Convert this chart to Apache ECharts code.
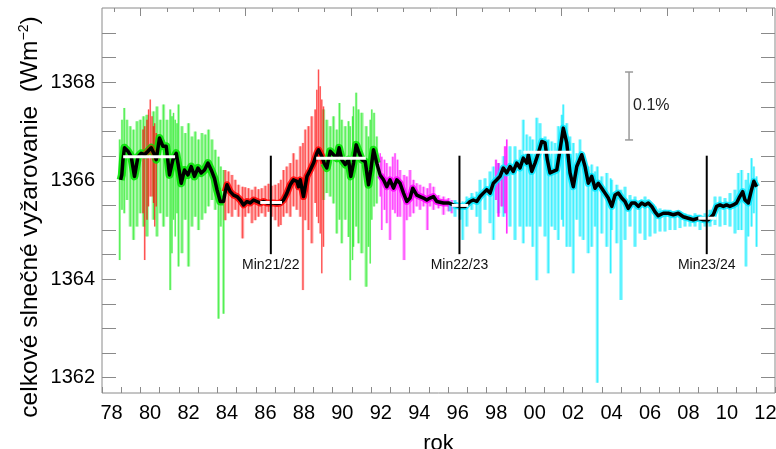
<!DOCTYPE html>
<html><head><meta charset="utf-8">
<script src="https://cdn.jsdelivr.net/npm/echarts@6/dist/echarts.min.js"></script>
<style>html,body{margin:0;padding:0;background:#fff}#c{width:776px;height:449px}</style>
</head><body><div id="c"></div>
<script>
// ---------------- data ----------------
// 81-day smoothed composite (black line)
const smoothYears = [1978.97,1979.03,1979.09,1979.17,1979.35,1979.52,1979.69,1979.87,1980.04,1980.21,1980.39,1980.56,1980.73,1980.82,1980.99,1981.17,1981.34,1981.51,1981.69,1981.86,1981.95,1982.12,1982.29,1982.47,1982.64,1982.81,1982.99,1983.16,1983.33,1983.51,1983.68,1983.85,1983.98,1984.15,1984.32,1984.41,1984.50,1984.67,1984.84,1985.02,1985.19,1985.36,1985.54,1985.71,1985.88,1986.06,1986.23,1986.40,1986.58,1986.75,1986.92,1987.10,1987.27,1987.44,1987.62,1987.79,1987.96,1988.14,1988.22,1988.31,1988.48,1988.66,1988.83,1989.00,1989.17,1989.26,1989.43,1989.55,1989.69,1989.87,1990.04,1990.21,1990.33,1990.47,1990.65,1990.82,1990.94,1991.08,1991.22,1991.34,1991.51,1991.69,1991.86,1991.98,1992.12,1992.29,1992.46,1992.64,1992.81,1992.98,1993.16,1993.33,1993.50,1993.68,1993.85,1994.02,1994.16,1994.37,1994.54,1994.72,1994.89,1995.06,1995.24,1995.41,1995.76,1996.02,1996.27,1996.62,1996.88,1997.14,1997.31,1997.49,1997.66,1997.83,1998.01,1998.18,1998.35,1998.53,1998.70,1998.87,1999.05,1999.22,1999.39,1999.57,1999.74,1999.91,2000.09,2000.17,2000.35,2000.52,2000.69,2000.87,2001.04,2001.16,2001.30,2001.47,2001.65,2001.82,2001.99,2002.17,2002.34,2002.51,2002.69,2002.95,2003.12,2003.29,2003.47,2003.64,2003.81,2003.99,2004.16,2004.33,2004.51,2004.68,2004.85,2005.03,2005.20,2005.37,2005.55,2005.72,2005.89,2006.07,2006.24,2006.41,2006.59,2006.76,2006.93,2007.19,2007.45,2007.71,2007.97,2008.23,2008.49,2008.75,2009.01,2009.27,2009.53,2009.79,2009.96,2010.14,2010.31,2010.48,2010.65,2010.83,2011.00,2011.17,2011.32,2011.44,2011.61,2011.78,2011.90,2012.04];
const smoothTSI = [1366.02,1366.12,1366.43,1366.67,1366.60,1366.49,1366.09,1366.49,1366.56,1366.53,1366.60,1366.67,1366.53,1366.43,1366.87,1366.70,1366.70,1366.12,1366.43,1366.56,1366.36,1365.95,1366.22,1366.12,1366.29,1366.09,1366.26,1366.16,1366.22,1366.36,1366.22,1366.05,1365.82,1365.58,1365.58,1365.78,1365.92,1365.78,1365.71,1365.68,1365.61,1365.51,1365.58,1365.55,1365.61,1365.58,1365.55,1365.58,1365.55,1365.55,1365.55,1365.54,1365.55,1365.61,1365.75,1365.92,1366.02,1365.99,1365.88,1366.02,1365.68,1366.09,1366.22,1366.36,1366.56,1366.63,1366.50,1366.36,1366.26,1366.60,1366.53,1366.46,1366.67,1366.43,1366.33,1366.43,1366.09,1366.36,1366.73,1366.60,1366.43,1366.39,1365.92,1366.22,1366.63,1366.36,1366.12,1366.02,1365.88,1366.02,1365.85,1366.02,1365.95,1365.75,1365.58,1365.65,1365.85,1365.71,1365.68,1365.65,1365.61,1365.65,1365.68,1365.58,1365.55,1365.55,1365.51,1365.48,1365.48,1365.58,1365.61,1365.58,1365.68,1365.75,1365.82,1365.75,1365.95,1366.02,1366.09,1366.26,1366.16,1366.29,1366.19,1366.36,1366.26,1366.46,1366.36,1366.53,1366.19,1366.36,1366.56,1366.80,1366.77,1366.43,1366.16,1366.19,1366.22,1366.63,1367.07,1366.77,1366.16,1365.88,1366.29,1366.53,1366.29,1365.95,1366.09,1365.85,1365.95,1365.85,1365.75,1365.65,1365.48,1365.71,1365.75,1365.65,1365.58,1365.44,1365.55,1365.55,1365.48,1365.55,1365.51,1365.55,1365.48,1365.37,1365.29,1365.34,1365.34,1365.31,1365.34,1365.27,1365.24,1365.21,1365.24,1365.21,1365.21,1365.31,1365.48,1365.51,1365.48,1365.51,1365.48,1365.51,1365.55,1365.68,1365.78,1365.61,1365.55,1365.82,1365.99,1365.88];

// daily data extents (top / bottom of the thin vertical strokes), per instrument
const hf1Years = [1978.92,1979.04,1979.16,1979.30,1979.47,1979.64,1979.82,1979.99,1980.16,1980.34,1980.68,1980.86,1981.03,1981.20,1981.38,1981.55,1981.64,1981.72,1981.81,1981.90,1981.98,1982.16,1982.33,1982.50,1982.68,1982.85,1983.02,1983.20,1983.37,1983.54,1983.72,1983.89,1984.06,1984.18,1984.32];
const hf1Top = [1366.84,1367.24,1367.48,1367.24,1367.11,1367.04,1367.21,1367.24,1367.31,1367.34,1367.41,1367.51,1367.24,1367.55,1367.24,1367.45,1367.31,1367.38,1367.24,1367.17,1367.55,1367.11,1366.97,1367.17,1366.90,1367.00,1366.84,1366.97,1366.94,1367.04,1366.84,1366.63,1366.49,1366.29,1366.22];
const hf1Bot = [1364.39,1365.41,1365.34,1365.61,1365.07,1364.80,1365.07,1365.34,1365.07,1364.87,1365.21,1364.87,1365.34,1365.07,1365.27,1363.78,1364.53,1365.21,1364.87,1365.34,1364.26,1364.53,1365.21,1364.26,1365.07,1365.27,1365.00,1365.21,1365.34,1365.48,1365.61,1365.41,1363.20,1365.07,1363.30];

const acrim1aYears = [1980.13,1980.22,1980.34,1980.42,1980.51,1980.60,1980.68,1980.74,1980.82];
const acrim1aTop = [1367.04,1367.11,1367.24,1367.45,1367.65,1367.31,1367.11,1367.17,1366.97];
const acrim1aBot = [1365.34,1364.39,1365.21,1365.48,1365.68,1365.68,1365.55,1365.07,1365.48];

const acrim1bYears = [1984.41,1984.58,1984.76,1984.93,1985.10,1985.31,1985.45,1985.62,1985.80,1985.97,1986.14,1986.31,1986.49,1986.66,1986.83,1987.01,1987.18,1987.30,1987.44,1987.61,1987.79,1987.96,1988.13,1988.31,1988.45,1988.57,1988.74,1988.91,1989.09,1989.17,1989.26,1989.35,1989.43,1989.52];
const acrim1bTop = [1366.22,1366.19,1366.12,1366.02,1365.92,1365.88,1365.87,1365.85,1365.82,1365.88,1365.83,1365.85,1365.90,1365.94,1365.90,1365.92,1365.95,1366.02,1366.22,1366.29,1366.36,1366.56,1366.43,1366.70,1366.77,1367.04,1367.11,1367.31,1367.45,1367.85,1368.26,1367.92,1367.65,1367.51];
const acrim1bBot = [1365.20,1365.34,1365.27,1365.41,1365.27,1364.83,1365.27,1365.34,1365.14,1365.20,1365.27,1365.34,1365.27,1365.37,1365.27,1365.20,1365.07,1365.10,1365.27,1365.34,1365.27,1365.48,1365.41,1365.27,1363.78,1365.20,1365.00,1364.73,1365.55,1365.27,1365.14,1364.93,1364.12,1364.66];

const hf2Years = [1989.52,1989.69,1989.87,1990.04,1990.21,1990.35,1990.47,1990.65,1990.82,1990.91,1991.03,1991.08,1991.22,1991.34,1991.51,1991.74,1991.86,1991.95,1992.03,1992.15,1992.29];
const hf2Top = [1367.45,1367.24,1367.11,1367.31,1367.04,1367.58,1367.24,1367.11,1367.21,1367.11,1367.31,1367.51,1367.79,1367.45,1367.38,1367.11,1366.90,1367.24,1367.45,1367.38,1366.90];
const hf2Bot = [1365.61,1365.75,1365.68,1365.54,1364.93,1365.21,1364.73,1365.21,1364.86,1363.98,1364.39,1364.66,1365.07,1364.73,1364.53,1363.85,1364.66,1364.32,1365.21,1365.48,1365.54];

const acrim2Years = [1992.47,1992.55,1992.69,1992.81,1992.98,1993.12,1993.24,1993.37,1993.50,1993.71,1993.85,1994.02,1994.20,1994.37,1994.54,1994.72,1994.92,1995.06,1995.24,1995.50,1995.76,1996.02,1996.19];
const acrim2Top = [1366.56,1366.49,1366.43,1366.36,1366.29,1366.49,1366.56,1366.43,1366.22,1366.12,1366.09,1366.22,1366.02,1365.95,1365.92,1365.88,1365.85,1365.95,1365.88,1365.71,1365.68,1365.65,1365.61];
const acrim2Bot = [1365.68,1365.00,1365.41,1365.14,1364.80,1365.41,1365.34,1365.27,1365.27,1364.39,1365.20,1365.27,1365.34,1365.48,1365.41,1365.48,1365.00,1365.48,1365.41,1365.44,1365.31,1365.38,1365.34];

const acrim2bYears = [1998.49,1998.62,1998.79,1998.96,1999.05];
const acrim2bTop = [1366.43,1366.36,1366.29,1366.70,1366.84];
const acrim2bBot = [1365.61,1365.27,1365.48,1365.34,1364.93];

const virgoYears = [1996.10,1996.36,1996.62,1996.76,1996.97,1997.23,1997.49,1997.66,1997.92,1998.18,1998.36,1998.62,1998.88,1999.22,1999.48,1999.74,1999.91,2000.09,2000.26,2000.40,2000.61,2000.78,2001.04,2001.21,2001.39,2001.56,2001.73,2001.91,2001.99,2002.17,2002.34,2002.51,2002.69,2002.86,2003.03,2003.29,2003.47,2003.64,2003.76,2003.99,2004.25,2004.45,2004.51,2004.77,2004.99,2005.20,2005.46,2005.72,2005.98,2006.24,2006.50,2006.76,2007.02,2007.28,2007.54,2007.80,2008.06,2008.32,2008.58,2008.84,2009.10,2009.36,2009.62,2009.88,2010.14,2010.40,2010.66,2010.92,2011.09,2011.26,2011.49,2011.61,2011.78,2011.90,2012.04];
const virgoTop = [1365.58,1365.61,1365.55,1365.58,1365.68,1365.75,1365.78,1366.02,1366.05,1366.19,1366.29,1366.36,1366.50,1366.70,1366.70,1366.63,1367.24,1366.94,1366.90,1366.84,1367.28,1367.17,1366.90,1366.84,1366.80,1366.77,1367.11,1367.34,1367.55,1367.17,1366.90,1366.77,1366.56,1366.84,1366.50,1366.29,1366.33,1366.19,1366.29,1366.09,1366.16,1366.05,1366.02,1365.92,1365.82,1365.88,1365.71,1365.68,1365.61,1365.68,1365.55,1365.48,1365.44,1365.41,1365.41,1365.37,1365.37,1365.34,1365.31,1365.34,1365.31,1365.34,1365.41,1365.68,1365.68,1365.65,1365.75,1365.82,1366.16,1366.22,1366.02,1366.16,1366.46,1366.29,1366.09];
const virgoBot = [1365.38,1365.27,1365.21,1364.80,1365.07,1365.41,1365.27,1364.93,1365.41,1365.14,1364.80,1365.34,1365.27,1365.07,1364.80,1365.07,1364.73,1365.07,1365.07,1364.66,1363.98,1365.07,1364.87,1364.12,1365.07,1365.00,1364.80,1365.21,1365.07,1364.66,1364.66,1364.12,1365.21,1364.87,1364.80,1364.53,1364.66,1365.07,1361.90,1364.93,1364.66,1364.12,1365.00,1364.73,1363.58,1364.80,1365.07,1364.66,1364.93,1364.80,1364.87,1364.93,1364.97,1364.97,1365.00,1365.00,1365.04,1365.07,1365.07,1365.07,1365.00,1365.07,1365.07,1365.10,1365.07,1365.10,1365.07,1364.93,1365.00,1365.00,1364.26,1364.87,1365.07,1365.34,1364.66];

// cycle levels (white bars)
const levelStart = [1979.10, 1986.23, 1989.14, 1996.19, 1999.91, 2009.01];
const levelEnd   = [1981.80, 1987.36, 1991.72, 1997.05, 2002.43, 2009.96];
const levelValue = [1366.49, 1365.56, 1366.46, 1365.50, 1366.58, 1365.24];

// solar minima markers
const minYears  = [1986.78, 1996.59, 2009.45];
const minLabels = ['Min21/22', 'Min22/23', 'Min23/24'];
const minSpan   = [1364.51, 1366.51];

// 0.1 % scale bar
const scaleBarYear = 2005.41;
const scaleBarSpan = [1366.83, 1368.21];
const scaleBarLabel = '0.1%';

// axes
const xLabelYears = [1978,1980,1982,1984,1986,1988,1990,1992,1994,1996,1998,2000,2002,2004,2006,2008,2010,2012];
const xLabelText  = ['78','80','82','84','86','88','90','92','94','96','98','00','02','04','06','08','10','12'];
const yLabelValues = [1362, 1364, 1366, 1368];
const yTickValues = [1362,1362.5,1363,1363.5,1364,1364.5,1365,1365.5,1366,1366.5,1367,1367.5,1368,1368.5,1369];
// top axis: days since 1980.0 (minor every 500 d, major every 2000 d)
const topMinorDays = [-500,0,500,1000,1500,2000,2500,3000,3500,4000,4500,5000,5500,6000,6500,7000,7500,8000,8500,9000,9500,10000,10500,11000,11500,12000];
const topMajorDays = [0,2000,4000,6000,8000,10000,12000];
const yName = ['celkové slnečné vyžarovanie  (Wm', '−2', ')'];
const xName = 'rok';

// ---------------- chart ----------------
const FONT = 'Liberation Sans, Arial, Helvetica, sans-serif';
const GRAY = '#8a8a8a';
const DAYS_PER_YEAR = 365.25;

function spikes(years, tops, bots, rgb, fillA, lineA) {
  return {
    type: 'custom', silent: true, animation: false,
    data: years.map((y, i) => [y, tops[i], bots[i]]),
    encode: { x: 0, y: [1, 2] },
    renderItem: (p, api) => {
      const i = p.dataIndex;
      const x = api.value(0);
      const a = api.coord([x, api.value(1)]);
      const b = api.coord([x, api.value(2)]);
      const prev = i > 0 ? years[i - 1] : x - (years[1] - years[0]);
      const next = i < years.length - 1 ? years[i + 1] : x + (x - years[i - 1]);
      const w = Math.min(3.8, Math.max(1.5, (api.coord([next, 0])[0] - api.coord([prev, 0])[0]) / 2));
      return { type: 'group', children: [
        { type: 'rect', shape: { x: a[0] - w / 2, y: a[1], width: w, height: b[1] - a[1] },
          style: { fill: 'rgba(' + rgb + ',' + fillA + ')' } },
        { type: 'line', shape: { x1: a[0], y1: a[1], x2: b[0], y2: b[1] },
          style: { stroke: 'rgba(' + rgb + ',' + lineA + ')', lineWidth: 1.2 } }
      ] };
    }
  };
}
function core(years, color, width) {
  const lo = Math.min.apply(null, years), hi = Math.max.apply(null, years);
  const d = [];
  smoothYears.forEach((y, i) => { if (y >= lo - 0.05 && y <= hi + 0.05) d.push([y, smoothTSI[i]]); });
  return { type: 'line', data: d, showSymbol: false, silent: true, animation: false,
           lineStyle: { color: color, width: width, join: 'round', cap: 'butt' } };
}

const series = [
  spikes(hf1Years, hf1Top, hf1Bot, '30,235,30', 0.4, 0.6),
  spikes(hf2Years, hf2Top, hf2Bot, '30,235,30', 0.4, 0.6),
  spikes(acrim1aYears, acrim1aTop, acrim1aBot, '255,0,0', 0.28, 0.6),
  spikes(acrim1bYears, acrim1bTop, acrim1bBot, '255,20,20', 0.36, 0.6),
  spikes(acrim2Years, acrim2Top, acrim2Bot, '255,0,255', 0.36, 0.6),
  spikes(virgoYears, virgoTop, virgoBot, '0,235,255', 0.4, 0.65),
  spikes(acrim2bYears, acrim2bTop, acrim2bBot, '255,0,255', 0.5, 0.75),
  core(hf1Years, 'rgba(0,225,0,0.85)', 8),
  core(acrim1aYears, 'rgba(255,0,0,0.55)', 6),
  core(acrim1bYears, 'rgba(255,0,0,0.85)', 7),
  core(hf2Years, 'rgba(0,225,0,0.85)', 8),
  core(acrim2Years, 'rgba(255,0,255,0.85)', 7),
  core(virgoYears, 'rgba(0,230,255,0.85)', 7),
  { type: 'line', data: smoothYears.map((y, i) => [y, smoothTSI[i]]), showSymbol: false, silent: true,
    animation: false, z: 3, lineStyle: { color: '#000', width: 3.5, join: 'round' } },
  { type: 'custom', silent: true, animation: false, z: 5,
    data: levelStart.map((s, i) => [s, i]),
    encode: { x: 0 },
    renderItem: (p, api) => {
      const i = api.value(1);
      const a = api.coord([levelStart[i], levelValue[i]]);
      const b = api.coord([levelEnd[i], levelValue[i]]);
      return { type: 'rect', shape: { x: a[0], y: a[1] - 1.5, width: b[0] - a[0], height: 3 },
               style: { fill: '#ffffff' } };
    } },
  { type: 'custom', silent: true, animation: false, z: 5,
    data: minYears.map((y, i) => [y, i]),
    encode: { x: 0 },
    renderItem: (p, api) => {
      const a = api.coord([api.value(0), minSpan[1]]);
      const b = api.coord([api.value(0), minSpan[0]]);
      return { type: 'group', children: [
        { type: 'line', shape: { x1: a[0], y1: a[1], x2: b[0], y2: b[1] }, style: { stroke: '#000', lineWidth: 2 } },
        { type: 'text', x: b[0], y: b[1] + 4,
          style: { text: minLabels[api.value(1)], fill: '#111', font: '14px ' + FONT, align: 'center', verticalAlign: 'top' } }
      ] };
    } },
  { type: 'custom', silent: true, animation: false, z: 5,
    data: [[scaleBarYear, scaleBarSpan[0], scaleBarSpan[1]]],
    encode: { x: 0, y: [1, 2] },
    renderItem: (p, api) => {
      const a = api.coord([api.value(0), api.value(2)]);
      const b = api.coord([api.value(0), api.value(1)]);
      return { type: 'group', children: [
        { type: 'line', shape: { x1: a[0], y1: a[1], x2: b[0], y2: b[1] }, style: { stroke: '#999', lineWidth: 1.5 } },
        { type: 'line', shape: { x1: a[0] - 4, y1: a[1], x2: a[0] + 4, y2: a[1] }, style: { stroke: '#999', lineWidth: 1.5 } },
        { type: 'line', shape: { x1: b[0] - 4, y1: b[1], x2: b[0] + 4, y2: b[1] }, style: { stroke: '#999', lineWidth: 1.5 } },
        { type: 'text', x: a[0] + 4, y: (a[1] + b[1]) / 2,
          style: { text: scaleBarLabel, fill: '#222', font: '16px ' + FONT, align: 'left', verticalAlign: 'middle' } }
      ] };
    } }
];

const dayMin = (1978 - 1980) * DAYS_PER_YEAR, dayMax = (2013 - 1980) * DAYS_PER_YEAR;
const noLine = { show: false, onZero: false };
const chart = echarts.init(document.getElementById('c'), null, { renderer: 'canvas' });
chart.setOption({
  animation: false,
  backgroundColor: '#fff',
  grid: { left: 102, right: 1, top: 8, bottom: 56, show: true, borderColor: GRAY, borderWidth: 1,
          backgroundColor: 'transparent', containLabel: false, outerBoundsMode: 'none' },
  xAxis: [
    { type: 'value', position: 'bottom', min: 1978, max: 2013, interval: 1,
      axisLine: noLine, splitLine: { show: false },
      axisTick: { show: true, inside: true, length: 6, lineStyle: { color: GRAY } },
      axisLabel: { customValues: xLabelYears.map(y => y + 0.5),
                   formatter: v => xLabelText[xLabelYears.indexOf(Math.floor(v))],
                   fontSize: 20, color: '#000', margin: 10, fontFamily: FONT },
      name: xName, nameLocation: 'middle', nameGap: 40,
      nameTextStyle: { fontSize: 22, color: '#000', fontFamily: FONT } },
    { type: 'value', position: 'top', min: dayMin, max: dayMax, offset: 0,
      axisLine: noLine, splitLine: { show: false },
      axisTick: { show: true, inside: true, length: 4, customValues: topMinorDays, lineStyle: { color: GRAY } },
      axisLabel: { show: false } },
    { type: 'value', position: 'top', min: dayMin, max: dayMax, offset: 0,
      axisLine: noLine, splitLine: { show: false },
      axisTick: { show: true, inside: true, length: 8, customValues: topMajorDays, lineStyle: { color: GRAY } },
      axisLabel: { show: false } }
  ],
  yAxis: [
    { type: 'value', position: 'left', min: 1361.69, max: 1369.51,
      axisLine: noLine, splitLine: { show: false },
      axisTick: { show: true, inside: true, length: 14, customValues: yTickValues, lineStyle: { color: GRAY } },
      axisLabel: { customValues: yLabelValues, formatter: v => String(v), fontSize: 20, color: '#000', margin: 7, fontFamily: FONT } },
    { type: 'value', position: 'right', min: 1361.69, max: 1369.51,
      axisLine: noLine, splitLine: { show: false },
      axisTick: { show: true, inside: true, length: 14, customValues: yTickValues, lineStyle: { color: GRAY } },
      axisLabel: { show: false } }
  ],
  graphic: [{
    type: 'text', x: 30, y: 217, rotation: Math.PI / 2, silent: true,
    style: { text: '{a|' + yName[0] + '}{b|' + yName[1] + '}{a|' + yName[2] + '}',
             align: 'center', verticalAlign: 'middle',
             rich: { a: { fontSize: 24.5, fontFamily: FONT, fill: '#000', color: '#000' },
                     b: { fontSize: 14, fontFamily: FONT, fill: '#000', color: '#000', verticalAlign: 'top', padding: [0, 0, 9, 0] } } }
  }],
  series: series
});
</script>
</body></html>
